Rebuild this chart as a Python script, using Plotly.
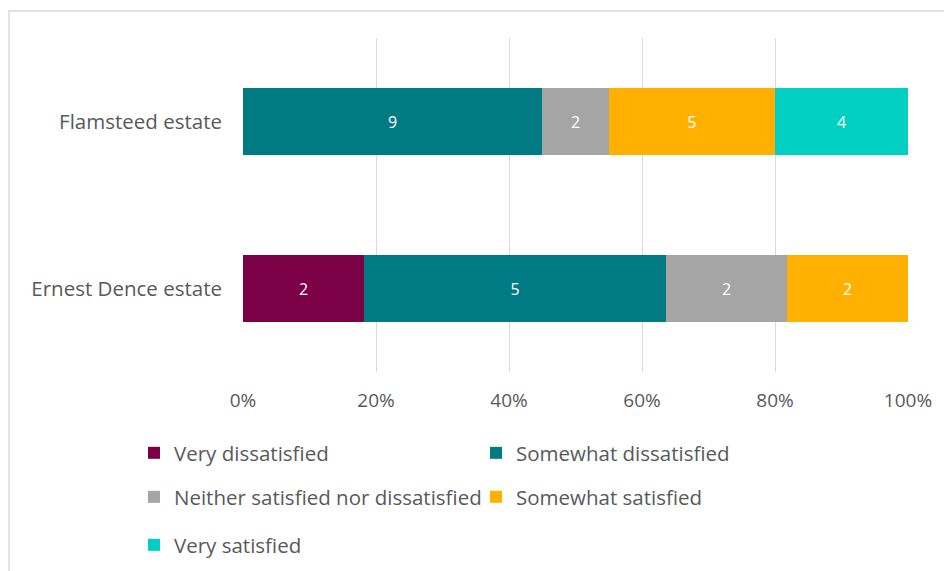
import plotly.graph_objects as go

categories = ["Ernest Dence estate", "Flamsteed estate"]
series_names = ["Very dissatisfied", "Somewhat dissatisfied",
                "Neither satisfied nor dissatisfied", "Somewhat satisfied", "Very satisfied"]
very_dissatisfied = [2, 0]
somewhat_dissatisfied = [5, 9]
neither = [2, 2]
somewhat_satisfied = [2, 5]
very_satisfied = [0, 4]
x_tick_vals = [0, 20, 40, 60, 80, 100]
x_tick_text = ["0%", "20%", "40%", "60%", "80%", "100%"]

series_values = [very_dissatisfied, somewhat_dissatisfied, neither, somewhat_satisfied, very_satisfied]
colors = ["#7B0046", "#007A83", "#A5A5A5", "#FFB000", "#00CFC1"]

OFF = 8  # default page body margin
W, H = 952 - OFF, 571 - OFF
L, T = 243 - OFF, 38 - OFF
R = 952 - 908
B = 571 - 372
pw, ph = W - L - R, H - T - B

def px_x(x):
    return (x - OFF - L) / pw

def px_y(y):
    return (H - B - (y - OFF)) / ph

FONT = "Open Sans"
TXT = "#595959"

# legend placement (page pixel positions of legend text start, row centre)
leg_pos = [(174, 453), (516, 453), (174, 497), (516, 497), (174, 545)]
legend_ids = ["legend", "legend2", "legend3", "legend4", "legend5"]

fig = go.Figure()
for name, vals, col, lid in zip(series_names, series_values, colors, legend_ids):
    fig.add_trace(go.Bar(
        y=categories, x=vals, name=name, orientation="h",
        marker=dict(color=col, line=dict(width=0)),
        text=[str(v) if v else "" for v in vals],
        textposition="inside", insidetextanchor="middle",
        textfont=dict(color="white", size=16, family=FONT),
        legend=lid,
    ))

layout_legends = {}
for lid, (lx, ly) in zip(legend_ids, leg_pos):
    layout_legends[lid] = dict(
        x=px_x(lx - 40), y=px_y(ly), xanchor="left", yanchor="middle",
        orientation="v", bgcolor="rgba(0,0,0,0)", borderwidth=0,
        font=dict(family=FONT, size=20.5, color=TXT),
        itemwidth=30,
    )

fig.update_layout(
    width=W, height=H,
    margin=dict(l=L, r=R, t=T, b=B, autoexpand=False),
    barmode="stack", barnorm="percent", bargap=0.6,
    plot_bgcolor="white", paper_bgcolor="white",
    font=dict(family=FONT, size=19, color=TXT),
    showlegend=True,
    xaxis=dict(range=[0, 100], tickmode="array", tickvals=x_tick_vals, ticktext=x_tick_text,
               showgrid=True, gridcolor="#D9D9D9", gridwidth=1,
               zeroline=False, showline=False, ticks="",
               tickfont=dict(size=19, color=TXT), ticklabelstandoff=15),
    yaxis=dict(showgrid=False, zeroline=False, showline=False, ticks="",
               tickfont=dict(size=20.5, color=TXT), ticklabelstandoff=20),
    shapes=[dict(type="rect", xref="paper", yref="paper",
                 x0=px_x(OFF + 1), x1=px_x(990), y0=px_y(620), y1=px_y(11),
                 line=dict(color="#D9D9D9", width=1.5), fillcolor="rgba(0,0,0,0)",
                 layer="below")],
    **layout_legends,
)

fig.write_html("out.html")
